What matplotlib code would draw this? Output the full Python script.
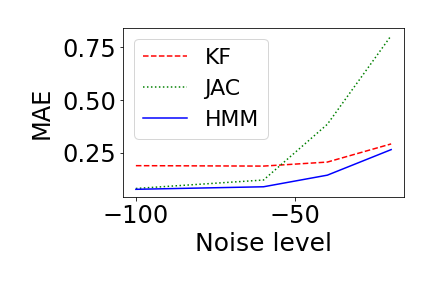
import matplotlib
matplotlib.use("Agg")
import matplotlib.pyplot as plt

# Data
noise = [-100, -60, -40, -20]
kf = [0.190, 0.188, 0.207, 0.293]
jac = [0.082, 0.122, 0.386, 0.806]
hmm = [0.078, 0.090, 0.145, 0.266]

plt.rcParams["font.size"] = 24

fig, ax = plt.subplots(figsize=(6, 4), dpi=72)
ax.plot(noise, kf, "r--", label="KF")
ax.plot(noise, jac, "g:", label="JAC")
ax.plot(noise, hmm, "b-", label="HMM")
ax.set_xlabel("Noise level", fontsize=25)
ax.set_ylabel("MAE", fontsize=24, labelpad=9)
ax.legend(loc="upper left", fontsize=22)
fig.subplots_adjust(left=0.285, right=0.935, bottom=0.316, top=0.903)
fig.savefig("out.png", dpi=72)
